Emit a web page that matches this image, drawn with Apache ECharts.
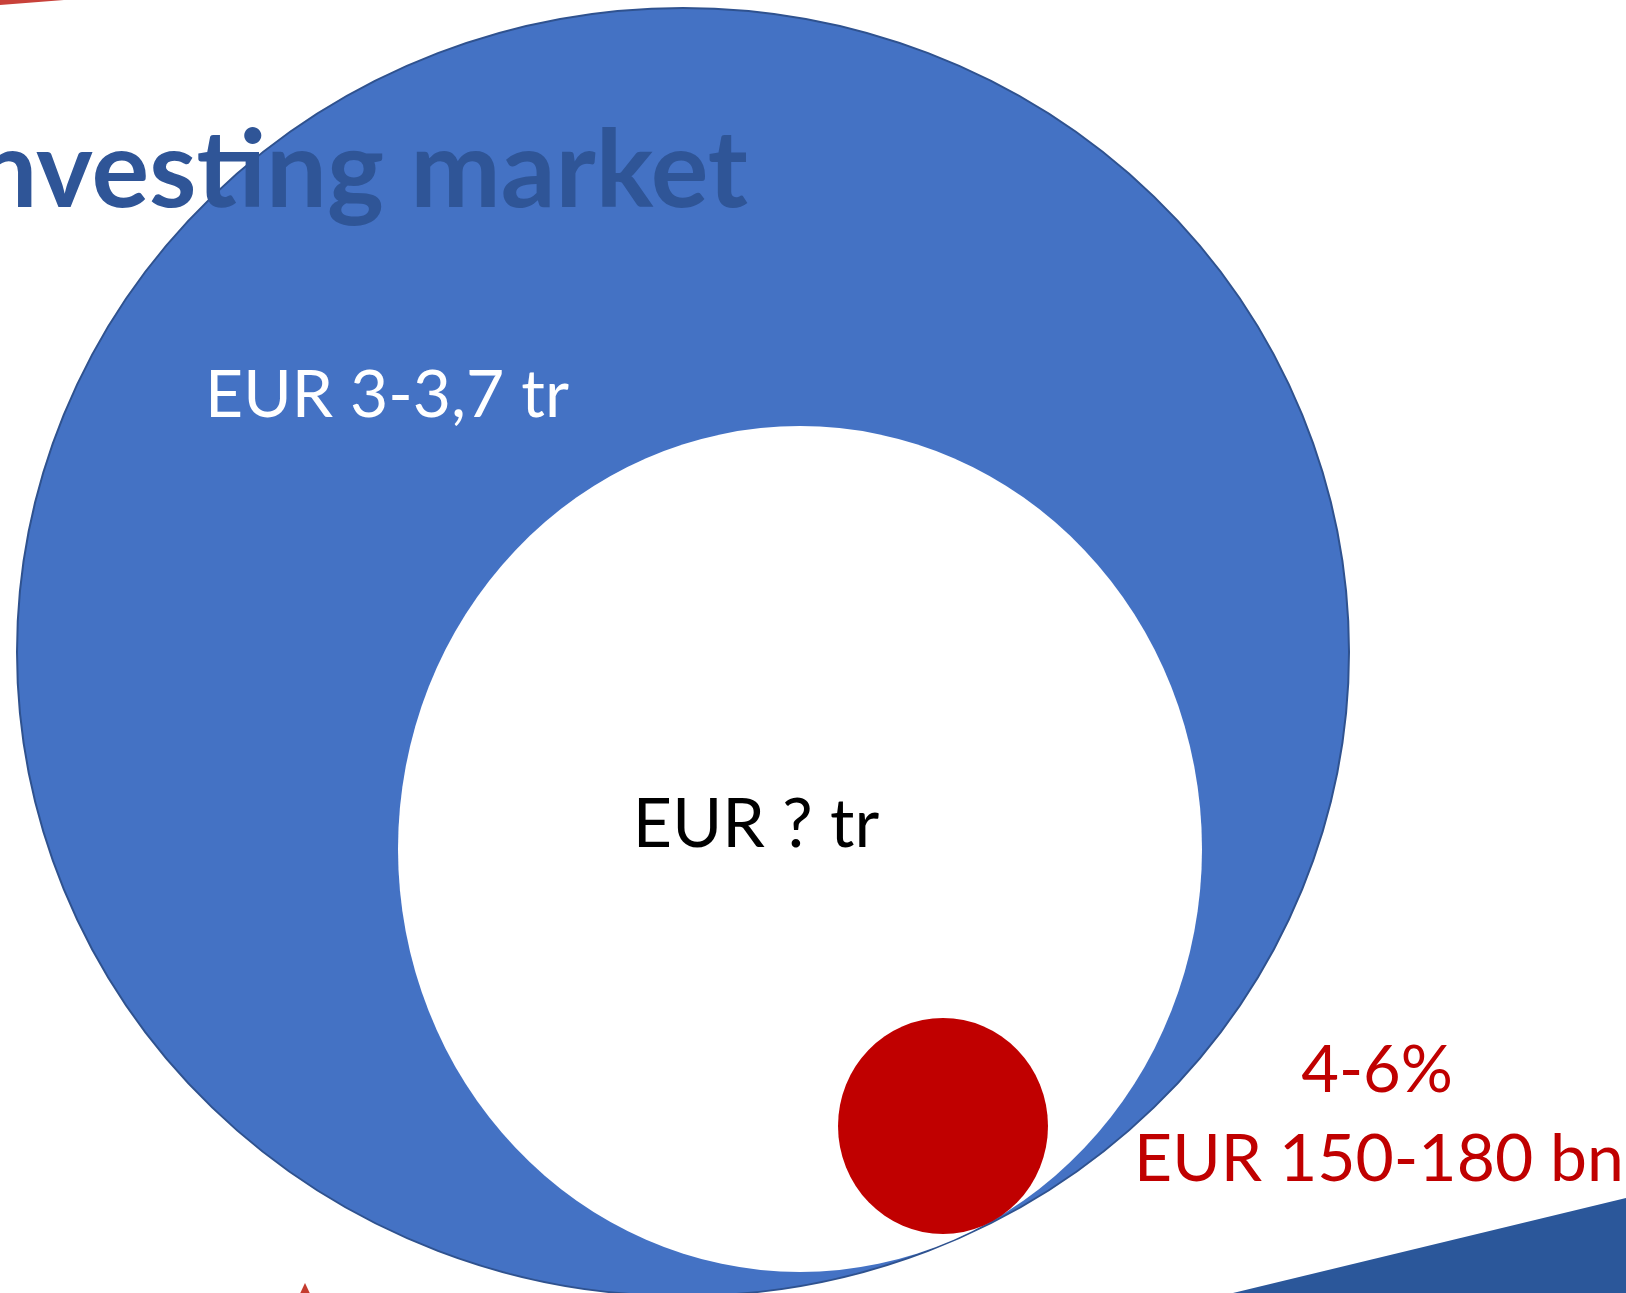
<!DOCTYPE html>
<html>
<head>
<meta charset="utf-8">
<script src="https://cdn.jsdelivr.net/npm/echarts@6/dist/echarts.min.js"></script>
<style>
  html, body { margin: 0; padding: 0; background: #fff; }
  #chart_box { width: 1626px; height: 1293px; }
</style>
</head>
<body>
<div id="chart_box"></div>
<script>
// circles: outer market, inner market, niche (slide units, y down)
var circleNames = ['market', 'segment', 'niche']
var circleX = [683, 800, 943]
var circleY = [652, 849, 1126]
var circleRx = [666, 402, 105]
var circleRy = [644, 423, 108]

// text labels
var labelTexts = ['EUR 3-3,7 tr', 'EUR ? tr', '4-6%', 'EUR 150-180 bn']
var labelX = [387, 756, 1377, 1379]
var labelY = [396, 825, 1071, 1160]

// decorative corner shapes
var blueTriangle = [[1626, 1198], [1233, 1293], [1626, 1293]]
var redTriangle = [[305, 1283], [297, 1300], [313, 1300]]
var redSliver = [[0, 0], [64, 0], [0, 5]]

var titleText = 'Investing market'

var circleStyles = [
  { fill: '#4472C4', stroke: '#2F528F', lineWidth: 2 },
  { fill: '#ffffff', stroke: null, lineWidth: 0 },
  { fill: '#C00000', stroke: null, lineWidth: 0 }
]
var labelStyles = [
  { fill: '#ffffff', font: '66px Lato' },
  { fill: '#000000', font: '68px Lato' },
  { fill: '#C00000', font: '65px Lato' },
  { fill: '#C00000', font: '66px Lato' }
]

const chartDom = document.getElementById('chart_box')
var myChart = echarts.init(chartDom)

function polygonSeries(points, color, z) {
  return {
    type: 'custom',
    z: z,
    silent: true,
    data: [0],
    renderItem: function(params, api) {
      return {
        type: 'polygon',
        shape: { points: points.map(function(p) { return api.coord(p) }) },
        style: { fill: color }
      }
    }
  }
}

var option = {
  animation: false,
  grid: { left: 0, right: 0, top: 0, bottom: 0 },
  xAxis: { type: 'value', min: 0, max: 1626, show: false },
  yAxis: { type: 'value', min: 0, max: 1293, inverse: true, show: false },
  series: [
    polygonSeries(blueTriangle, '#2B579A', 1),
    polygonSeries(redTriangle, '#C43B2E', 1),
    polygonSeries(redSliver, '#C8413A', 1),
    {
      type: 'custom',
      z: 2,
      silent: true,
      data: circleNames.map(function(n, i) {
        return [circleX[i], circleY[i], circleRx[i], circleRy[i]]
      }),
      renderItem: function(params, api) {
        var c = api.coord([api.value(0), api.value(1)])
        var s = api.size([api.value(2), api.value(3)])
        var st = circleStyles[params.dataIndex]
        return {
          type: 'circle',
          x: c[0],
          y: c[1],
          scaleY: s[1] / s[0],
          shape: { cx: 0, cy: 0, r: s[0] },
          style: { fill: st.fill, stroke: st.stroke, lineWidth: st.lineWidth, strokeNoScale: true }
        }
      }
    },
    {
      type: 'custom',
      z: 3,
      silent: true,
      data: labelTexts.map(function(t, i) {
        return [labelX[i], labelY[i]]
      }),
      renderItem: function(params, api) {
        var c = api.coord([api.value(0), api.value(1)])
        var st = labelStyles[params.dataIndex]
        return {
          type: 'text',
          x: c[0],
          y: c[1],
          style: {
            text: labelTexts[params.dataIndex],
            fill: st.fill,
            font: st.font,
            align: 'center',
            verticalAlign: 'middle'
          }
        }
      }
    },
    {
      type: 'custom',
      z: 4,
      silent: true,
      data: [[748, 118]],
      renderItem: function(params, api) {
        var c = api.coord([api.value(0), api.value(1)])
        return {
          type: 'text',
          x: c[0],
          y: c[1],
          style: {
            text: titleText,
            fill: '#2F5597',
            font: 'bold 108px Lato',
            align: 'right',
            verticalAlign: 'top'
          }
        }
      }
    }
  ]
}
option && myChart.setOption(option)
</script>
</body>
</html>
